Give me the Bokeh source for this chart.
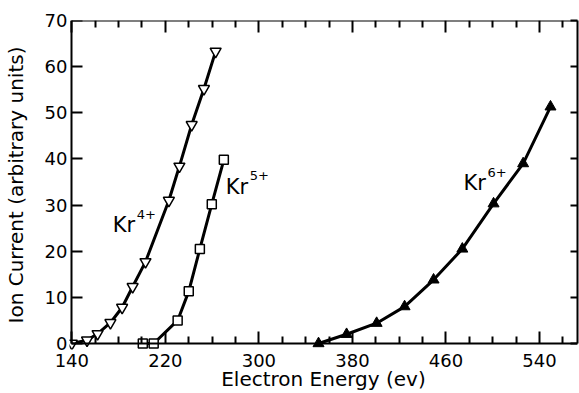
from bokeh.plotting import figure
from bokeh.models import Range1d, LinearAxis, FixedTicker
from bokeh.embed import file_html
from bokeh.resources import INLINE
from bokeh.core.properties import value

# Data
kr4_energy = [140, 153, 162, 173, 183, 192, 203, 223, 232, 242.5, 253, 263]
kr4_current = [0, 0.7, 2.1, 4.5, 7.8, 12.3, 17.7, 31.0, 38.4, 47.4, 55.2, 63.3]
kr5_energy = [200.7, 210, 230.5, 240, 249.5, 259.7, 270]
kr5_current = [0, 0, 5.0, 11.3, 20.5, 30.2, 39.8]
kr6_energy = [351, 375, 400.7, 424.6, 449.4, 474, 500.7, 526, 549.4]
kr6_current = [0, 2.0, 4.4, 8.0, 13.8, 20.5, 30.3, 39.0, 51.3]

label_base = ["Kr", "Kr", "Kr"]
label_sup = ["4+", "5+", "6+"]
label_x = [175, 271.6, 475]
label_y = [24.06, 32.5, 33.2]

x_major_ticks = [140, 220, 300, 380, 460, 540]
x_minor_ticks = [160, 180, 200, 240, 260, 280, 320, 340, 360, 400, 420, 440, 480, 500, 520, 560]
y_major_ticks = [0, 10, 20, 30, 40, 50, 60, 70]
x_lo, x_hi = 140, 572.5
y_lo, y_hi = 0, 70

FONT = "DejaVu Sans"

# ranges padded a little at the low ends so markers sitting on the axes are not clipped
p = figure(width=579, height=393, x_range=Range1d(138, x_hi), y_range=Range1d(-1.3, y_hi),
           output_backend="svg", toolbar_location=None,
           min_border_left=69, min_border_right=2, min_border_top=20, min_border_bottom=44)
p.xgrid.visible = False
p.ygrid.visible = False
p.outline_line_color = None


def lines_and_ticks(ax, ticks, minor, t_in, t_out, m_in, m_out):
    ax.ticker = FixedTicker(ticks=ticks, minor_ticks=minor)
    ax.major_tick_in = t_in
    ax.major_tick_out = t_out
    ax.minor_tick_in = m_in
    ax.minor_tick_out = m_out
    ax.axis_line_width = 2
    ax.major_tick_line_width = 2
    ax.minor_tick_line_width = 2
    ax.axis_line_color = "black"
    ax.major_tick_line_color = "black"
    ax.minor_tick_line_color = "black" if minor else None
    ax.major_label_overrides = {t: "" for t in ticks}
    ax.major_label_standoff = 0


def labels_only(ax, ticks, title, s1, s2):
    ax.ticker = FixedTicker(ticks=ticks, minor_ticks=[])
    ax.axis_line_color = None
    ax.major_tick_line_color = None
    ax.minor_tick_line_color = None
    ax.major_tick_in = 0
    ax.major_tick_out = 0
    ax.minor_tick_in = 0
    ax.minor_tick_out = 0
    ax.major_label_text_font = FONT
    ax.major_label_text_font_size = "18px"
    ax.major_label_text_color = "black"
    ax.major_label_standoff = s1
    ax.axis_label = title
    ax.axis_label_text_font = FONT
    ax.axis_label_text_font_size = "20px"
    ax.axis_label_text_font_style = "normal"
    ax.axis_label_text_color = "black"
    ax.axis_label_standoff = s2


# tick labels and titles on the frame edges
labels_only(p.xaxis[0], x_major_ticks, "Electron Energy (ev)", 4, -3)
labels_only(p.yaxis[0], y_major_ticks, "Ion Current (arbitrary units)", 2, 14)

# axis lines with inward ticks, placed at y = 0, x = 140, y = 70 and the right end
bottom = LinearAxis(fixed_location=y_lo, bounds=(x_lo, x_hi))
lines_and_ticks(bottom, x_major_ticks, x_minor_ticks, 12, 0, 7, 0)
p.add_layout(bottom, "below")
top = LinearAxis(fixed_location=y_hi, bounds=(x_lo, x_hi))
lines_and_ticks(top, x_major_ticks, x_minor_ticks, 0, 12, 0, 7)
p.add_layout(top, "below")
left = LinearAxis(fixed_location=x_lo, bounds=(y_lo, y_hi))
lines_and_ticks(left, y_major_ticks, [], 11, 0, 0, 0)
p.add_layout(left, "left")
right = LinearAxis(bounds=(y_lo, y_hi))
lines_and_ticks(right, y_major_ticks, [], 7, 0, 0, 0)
p.add_layout(right, "right")

LW = 3
p.line(kr4_energy, kr4_current, line_color="black", line_width=LW)
p.scatter(kr4_energy, kr4_current, marker="inverted_triangle", size=11,
          fill_color="white", line_color="black", line_width=1.5)
p.line(kr5_energy, kr5_current, line_color="black", line_width=LW)
p.scatter(kr5_energy, kr5_current, marker="square", size=9,
          fill_color="white", line_color="black", line_width=1.5)
p.line(kr6_energy, kr6_current, line_color="black", line_width=LW)
p.scatter(kr6_energy, kr6_current, marker="triangle", size=11,
          fill_color="black", line_color="black", line_width=1)

p.text(label_x, label_y, text=label_base, text_font=value(FONT), text_font_size="21px",
       text_align="left", text_baseline="alphabetic", text_color="black", y_offset=-7)
p.text(label_x, label_y, text=label_sup, text_font=value(FONT), text_font_size="13px",
       text_align="left", text_baseline="alphabetic", text_color="black",
       x_offset=24, y_offset=-18)

open("out.html", "w").write(file_html(p, INLINE))
